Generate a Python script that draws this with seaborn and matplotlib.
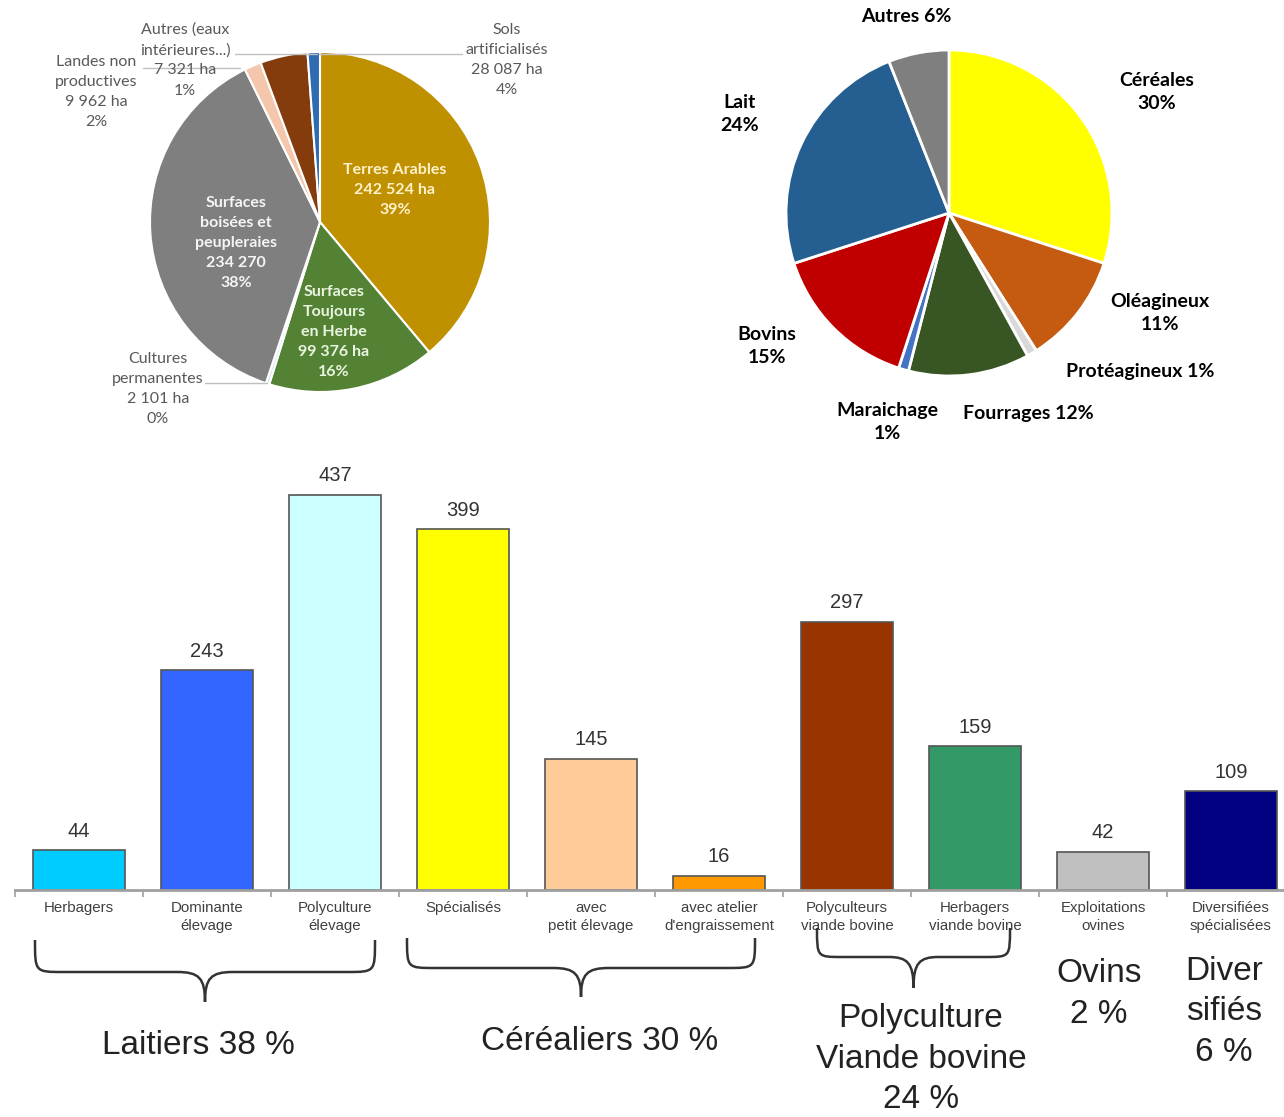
import matplotlib
matplotlib.use("Agg")
import matplotlib.pyplot as plt
from matplotlib.path import Path
from matplotlib.patches import PathPatch
import seaborn as sns
import pandas as pd

# ---------------- data ----------------
# Land use (ha)
land_names = ["Terres Arables", "Surfaces\nToujours\nen Herbe", "Cultures\npermanentes",
              "Surfaces\nboisées et\npeupleraies", "Landes non\nproductives",
              "Sols\nartificialisés", "Autres (eaux\nintérieures...)"]
land_ha = [242524, 99376, 2101, 234270, 9962, 28087, 7321]
land_ha_text = ["242 524 ha", "99 376 ha", "2 101 ha", "234 270", "9 962 ha", "28 087 ha", "7 321 ha"]
land_pct = ["39%", "16%", "0%", "38%", "2%", "4%", "1%"]
land_colors = ["#BF9000", "#548235", "#DDE6F0", "#7F7F7F", "#F4C7AC", "#843C0C", "#2E6BB0"]

# Agricultural production shares (%)
prod_names = ["Céréales", "Oléagineux", "Protéagineux", "Fourrages", "Maraichage",
              "Bovins", "Lait", "Autres"]
prod_pct = [30, 11, 1, 12, 1, 15, 24, 6]
prod_colors = ["#FFFF00", "#C55A11", "#D9D9D9", "#375623", "#4472C4", "#C00000", "#255E91", "#7F7F7F"]

# Farms by type
farm_types = ["Herbagers", "Dominante\nélevage", "Polyculture\nélevage", "Spécialisés",
              "avec\npetit élevage", "avec atelier\nd'engraissement", "Polyculteurs\nviande bovine",
              "Herbagers\nviande bovine", "Exploitations\novines", "Diversifiées\nspécialisées"]
farm_counts = [44, 243, 437, 399, 145, 16, 297, 159, 42, 109]
farm_colors = ["#00CCFF", "#3366FF", "#CCFFFF", "#FFFF00", "#FFCC99", "#FF9900",
               "#993300", "#339966", "#C0C0C0", "#000080"]

group_labels = ["Laitiers 38 %", "Céréaliers 30 %", "Polyculture\nViande bovine\n24 %",
                "Ovins\n2 %", "Diver\nsifiés\n6 %"]

# ---------------- figure ----------------
sns.set_theme(style="white")
plt.rcParams["font.family"] = ["Liberation Sans", "DejaVu Sans"]

W, H = 1284, 1117
fig = plt.figure(figsize=(W / 100, H / 100), dpi=100)
fig.patch.set_facecolor("white")


def rect(x0, y0, x1, y1):
    return [x0 / W, 1 - y1 / H, (x1 - x0) / W, (y1 - y0) / H]


def pie_axes(x0, y0, x1, y1):
    ax = fig.add_axes(rect(x0, y0, x1, y1))
    ax.axis("off")
    return ax


def fit_pie(ax, x0, y0, x1, y1, cx, cy, r):
    ax.set_aspect("auto")
    ax.set_xlim((x0 - cx) / r, (x1 - cx) / r)
    ax.set_ylim((cy - y1) / r, (cy - y0) / r)


# ---------------- left pie: land use ----------------
axl = pie_axes(40, 0, 600, 440)
axl.pie(land_ha, colors=land_colors, startangle=90, counterclock=False,
        wedgeprops=dict(edgecolor="white", linewidth=1.5))
fit_pie(axl, 40, 0, 600, 440, 320, 222, 170)

# overlay axes in pixel coordinates for annotations
axo = fig.add_axes([0, 0, 1, 1], zorder=10)
axo.set_xlim(0, W)
axo.set_ylim(H, 0)
axo.axis("off")
axo.patch.set_alpha(0)

lab_font = dict(family=["Lato", "DejaVu Sans"], fontsize=11.5, linespacing=1.55,
                ha="center", va="center")
inner_font = dict(lab_font, fontweight="bold")

def land_label(i):
    return f"{land_names[i]}\n{land_ha_text[i]}\n{land_pct[i]}"

axo.text(395, 190, land_label(0), color="#FFF2CC", **inner_font)
axo.text(334, 332, land_label(1), color="#EAF5E0", **inner_font)
axo.text(236, 243, land_label(3), color="#F5F5F5", **inner_font)
axo.text(158, 389, land_label(2), color="#595959", **lab_font)
axo.text(96, 92, land_label(4), color="#595959", **lab_font)
axo.text(507, 60, land_label(5), color="#595959", **lab_font)
axo.text(185, 60, land_label(6), color="#595959", **lab_font)

lead = dict(color="#BFBFBF", lw=1)
axo.plot([235, 317], [54, 54], **lead)
axo.plot([462, 319], [54, 54], **lead)
axo.plot([143, 240], [68, 68], **lead)
axo.plot([205, 267], [383, 383], **lead)

# ---------------- right pie: production ----------------
axr = pie_axes(700, 0, 1284, 450)
axr.pie(prod_pct, colors=prod_colors, startangle=90, counterclock=False,
        wedgeprops=dict(edgecolor="white", linewidth=2))
fit_pie(axr, 700, 0, 1284, 450, 949, 213, 163)

pfont = dict(family=["Lato", "DejaVu Sans"], fontsize=14, fontweight="bold",
             color="black", ha="center", va="center", linespacing=1.45)
prod_label_pos = {
    "Céréales": (1157, 92, True), "Oléagineux": (1160, 313, True),
    "Protéagineux": (1140, 372, False), "Fourrages": (1028, 414, False),
    "Maraichage": (887, 422, True), "Bovins": (767, 346, True),
    "Lait": (740, 114, True), "Autres": (906, 16, False),
}
for name, pct in zip(prod_names, prod_pct):
    x, y, two_lines = prod_label_pos[name]
    sep = "\n" if two_lines else " "
    axo.text(x, y, f"{name}{sep}{pct}%", **pfont)

# ---------------- bar chart: farm types ----------------
axb = fig.add_axes(rect(15, 456.1, 1295, 890))
df = pd.DataFrame({"type": farm_types, "count": farm_counts})
sns.barplot(data=df, x="type", y="count", hue="type", palette=farm_colors,
            legend=False, width=0.72, edgecolor="#555555", linewidth=1.2,
            saturation=1, ax=axb)
axb.set_xlim(-0.5, len(farm_types) - 0.5)
axb.set_ylim(0, 480)
for c in axb.containers:
    axb.bar_label(c, padding=7, fontsize=14.5, color="#333333",
                  family=["Liberation Sans", "DejaVu Sans"])
axb.set_xlabel("")
axb.set_ylabel("")
axb.set_yticks([])
for s in ["top", "right", "left"]:
    axb.spines[s].set_visible(False)
axb.spines["bottom"].set_color("#A0A0A0")
axb.spines["bottom"].set_linewidth(2)
axb.tick_params(axis="x", which="major", length=0, pad=8, labelsize=10.8,
                labelcolor="#404040")
axb.set_xticks(range(len(farm_types)))
axb.set_xticklabels(farm_types, linespacing=1.35)
axb.set_xticks([i - 0.5 for i in range(len(farm_types) + 1)], minor=True)
axb.tick_params(axis="x", which="minor", length=5, width=1.2, color="#A0A0A0",
                direction="out", bottom=True)
axb.patch.set_alpha(0)


# ---------------- braces and group labels ----------------
def brace(ax, x0, x1, ytop, ymid, ytip, r=25):
    xm = (x0 + x1) / 2
    verts = [(x0, ytop), (x0, ymid), (x0, ymid), (x0 + r, ymid),
             (xm - r, ymid),
             (xm - 6, ymid), (xm, ymid + 6), (xm, ytip),
             (xm, ymid + 6), (xm + 6, ymid), (xm + r, ymid),
             (x1 - r, ymid),
             (x1, ymid), (x1, ymid), (x1, ytop)]
    codes = [Path.MOVETO, Path.CURVE4, Path.CURVE4, Path.CURVE4,
             Path.LINETO,
             Path.CURVE4, Path.CURVE4, Path.CURVE4,
             Path.CURVE4, Path.CURVE4, Path.CURVE4,
             Path.LINETO,
             Path.CURVE4, Path.CURVE4, Path.CURVE4]
    ax.add_patch(PathPatch(Path(verts, codes), fill=False, edgecolor="#333333", lw=1.8))


brace(axo, 35, 375, 940, 972, 1002, r=28)
brace(axo, 407, 755, 938, 968, 997, r=28)
brace(axo, 817, 1010, 928, 957, 988, r=25)

gfont = dict(fontsize=24, color="#222222", ha="center", va="center", linespacing=1.4)
axo.text(198, 1045, group_labels[0], **gfont)
axo.text(600, 1042, group_labels[1], **gfont)
axo.text(921, 1059, group_labels[2], **gfont)
axo.text(1099, 994, group_labels[3], **gfont)
axo.text(1224, 1012, group_labels[4], **gfont)

fig.savefig("out.png", dpi=100)
